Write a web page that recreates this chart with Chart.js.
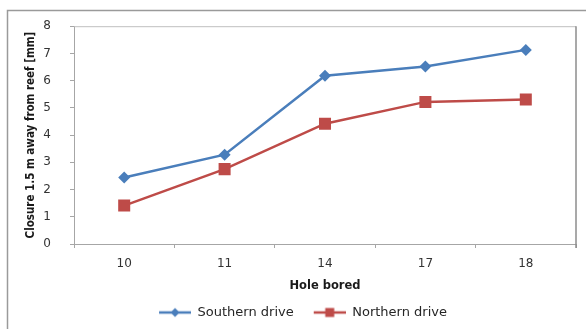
<!DOCTYPE html>
<html>
<head>
<meta charset="utf-8">
<script src="https://cdn.jsdelivr.net/npm/chart.js@4.4.0/dist/chart.umd.min.js"></script>
<style>
  html, body { margin: 0; padding: 0; background: #ffffff; }
  #wrap { width: 586px; height: 329px; position: relative; }
</style>
</head>
<body>
<div id="wrap"><canvas id="chart" width="586" height="329"></canvas></div>
<script>
// Hole numbers along the drive
const holes = ['10', '11', '14', '17', '18'];
// Closure measured 1.5 m away from the reef, in mm
const southernDrive = [2.44, 3.28, 6.18, 6.52, 7.13];
const northernDrive = [1.41, 2.75, 4.42, 5.22, 5.31];
// Value axis ticks
const yTicks = [0, 1, 2, 3, 4, 5, 6, 7, 8];

const BLUE = '#4A7EBB';
const RED = '#BE4B48';
const AXIS = '#A6A6A6';

// Legend swatch: a short line with the series marker in its middle
function legendSwatch(color, marker) {
  const blank = 12, lineW = 32, h = 12;
  const c = document.createElement('canvas');
  c.width = blank + lineW; c.height = h;
  const g = c.getContext('2d');
  g.strokeStyle = color; g.lineWidth = 2.5;
  g.beginPath(); g.moveTo(blank, h / 2); g.lineTo(blank + lineW, h / 2); g.stroke();
  g.fillStyle = color;
  const cx = blank + lineW / 2, cy = h / 2;
  g.beginPath();
  if (marker === 'diamond') {
    g.moveTo(cx - 4.5, cy); g.lineTo(cx, cy - 4.5); g.lineTo(cx + 4.5, cy); g.lineTo(cx, cy + 4.5);
  } else {
    g.rect(cx - 4.5, cy - 4.5, 9, 9);
  }
  g.closePath(); g.fill();
  return c;
}

// Outer frame of the chart and the border around the plot area
const frames = {
  id: 'frames',
  beforeDraw(chart) {
    const ctx = chart.ctx;
    ctx.save();
    ctx.fillStyle = '#ffffff';
    ctx.fillRect(0, 0, chart.width, chart.height);
    ctx.strokeStyle = '#9A9A9A';
    ctx.lineWidth = 1.5;
    ctx.strokeRect(7.5, 10.5, 700, 400);
    ctx.restore();
  },
  afterDatasetsDraw(chart) {
    const { ctx, chartArea: a } = chart;
    ctx.save();
    ctx.lineWidth = 1;
    ctx.strokeStyle = '#BFBFBF';
    ctx.beginPath();
    ctx.moveTo(a.left, a.top + 0.5); ctx.lineTo(a.right, a.top + 0.5);
    ctx.stroke();
    ctx.strokeStyle = '#8C8C8C';
    ctx.lineWidth = 1.5;
    ctx.beginPath();
    ctx.moveTo(a.right, a.top); ctx.lineTo(a.right, a.bottom + 4);
    ctx.stroke();
    ctx.restore();
  }
};

new Chart(document.getElementById('chart'), {
  type: 'line',
  data: {
    labels: holes,
    datasets: [
      {
        label: 'Southern drive',
        data: southernDrive,
        borderColor: BLUE,
        backgroundColor: BLUE,
        borderWidth: 2.5,
        pointStyle: 'rectRot',
        pointRadius: 6,
        pointHoverRadius: 6,
        pointBorderWidth: 0,
        tension: 0
      },
      {
        label: 'Northern drive',
        data: northernDrive,
        borderColor: RED,
        backgroundColor: RED,
        borderWidth: 2.5,
        pointStyle: 'rect',
        pointRadius: 8.5,
        pointHoverRadius: 8.5,
        pointBorderWidth: 0,
        tension: 0
      }
    ]
  },
  options: {
    responsive: false,
    animation: false,
    layout: { padding: { left: 18, right: 10, top: 26, bottom: 0 } },
    plugins: {
      tooltip: { enabled: false },
      legend: {
        position: 'bottom',
        labels: {
          usePointStyle: true,
          pointStyleWidth: 44,
          boxHeight: 12,
          padding: 8,
          color: '#262626',
          font: { family: 'DejaVu Sans', size: 13 },
          generateLabels(chart) {
            return chart.data.datasets.map((ds, i) => ({
              text: ds.label,
              fontColor: '#262626',
              pointStyle: legendSwatch(ds.borderColor, i === 0 ? 'diamond' : 'square'),
              datasetIndex: i,
              lineWidth: 0,
              hidden: false
            }));
          }
        }
      }
    },
    scales: {
      x: {
        type: 'category',
        offset: true,
        afterFit(scale) { scale.height = 54; },
        border: { display: true, color: AXIS, width: 1 },
        grid: { display: true, drawOnChartArea: false, drawTicks: true, tickLength: 4, color: AXIS, offset: true },
        ticks: { color: '#333333', padding: 9, font: { family: 'DejaVu Sans', size: 12 } },
        title: {
          display: true,
          text: 'Hole bored',
          color: '#1A1A1A',
          font: { family: 'DejaVu Sans', size: 11.5, weight: 'bold' },
          padding: { top: 0, bottom: 5 }
        }
      },
      y: {
        min: 0,
        max: 8,
        afterFit(scale) { scale.width = 56; },
        afterBuildTicks(scale) { scale.ticks = yTicks.map(v => ({ value: v })); },
        border: { display: true, color: AXIS, width: 1 },
        grid: { display: true, drawOnChartArea: false, drawTicks: true, tickLength: 4, color: AXIS },
        ticks: { color: '#333333', padding: 19, font: { family: 'DejaVu Sans', size: 12 } },
        title: {
          display: true,
          text: 'Closure 1.5 m away from reef [mm]',
          color: '#1A1A1A',
          font: { family: 'DejaVu Sans Condensed', size: 11.5, weight: 'bold' },
          padding: { top: 6, bottom: 0 }
        }
      }
    }
  },
  plugins: [frames]
});
</script>
</body>
</html>
